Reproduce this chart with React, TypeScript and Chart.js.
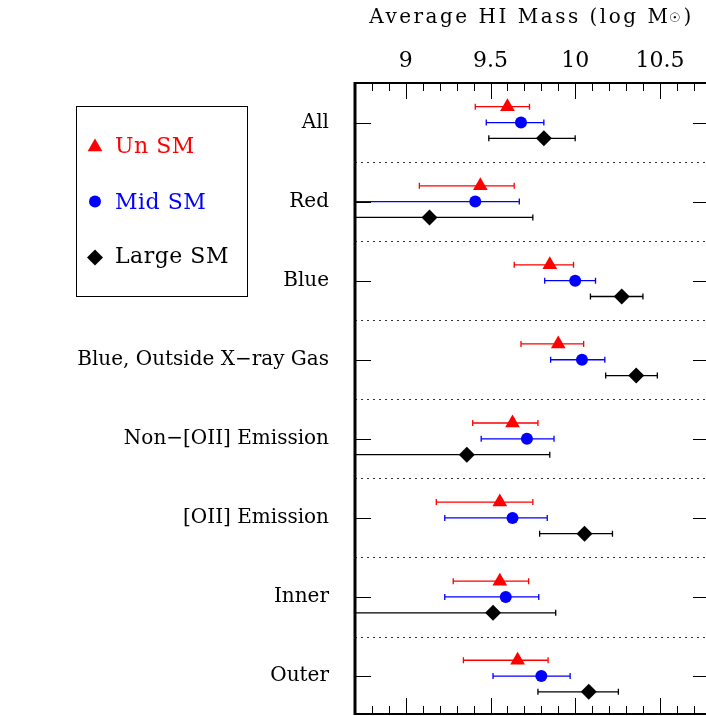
import React, { useEffect, useRef } from "react";
import { Chart, registerables } from "chart.js";

Chart.register(...registerables);

const categories = [
  "All",
  "Red",
  "Blue",
  "Blue, Outside X\u2212ray Gas",
  "Non\u2212[OII] Emission",
  "[OII] Emission",
  "Inner",
  "Outer",
];

const xTickValues = [9, 9.5, 10, 10.5];
const xTickLabels = ["9", "9.5", "10", "10.5"];

const unSM = [9.6, 9.44, 9.85, 9.9, 9.63, 9.555, 9.555, 9.66];
const unLo = [9.41, 9.08, 9.64, 9.68, 9.395, 9.18, 9.28, 9.34];
const unHi = [9.73, 9.64, 9.99, 10.05, 9.78, 9.75, 9.725, 9.84];

const midSM = [9.68, 9.41, 10.0, 10.04, 9.715, 9.63, 9.59, 9.8];
const midLo = [9.475, 8.5, 9.82, 9.855, 9.445, 9.23, 9.23, 9.515];
const midHi = [9.815, 9.67, 10.12, 10.175, 9.875, 9.835, 9.785, 9.97];

const largeSM = [9.815, 9.14, 10.275, 10.36, 9.36, 10.055, 9.515, 10.08];
const largeLo = [9.49, 8.4, 10.09, 10.18, 8.5, 9.79, 8.6, 9.78];
const largeHi = [10.0, 9.75, 10.4, 10.485, 9.85, 10.22, 9.885, 10.255];

const seriesNames = ["Un SM", "Mid SM", "Large SM"];
const seriesColors = ["#ff0000", "#0000ff", "#000000"];
const seriesStyles = ["triangle", "circle", "rectRot"];
const seriesRadii = [8.5, 6, 8];
const seriesOffsets = [-0.2, 0, 0.2];

const FONT = "'DejaVu Serif', serif";

const X_MIN = 8.7;
const X_MAX = 10.79;
const Y_MAX = 7.98;

const errorBarPlugin = {
  id: "errorBars",
  beforeDatasetsDraw(chart: any) {
    const { ctx, chartArea } = chart;
    const xs = chart.scales.x;
    const ys = chart.scales.y;
    const lo = [unLo, midLo, largeLo];
    const hi = [unHi, midHi, largeHi];
    ctx.save();
    ctx.beginPath();
    ctx.rect(chartArea.left, chartArea.top, chartArea.right - chartArea.left, chartArea.bottom - chartArea.top);
    ctx.clip();
    ctx.lineWidth = 1.3;
    for (let s = 0; s < 3; s++) {
      ctx.strokeStyle = seriesColors[s];
      for (let i = 0; i < categories.length; i++) {
        const y = ys.getPixelForValue(i + 0.5 + seriesOffsets[s]);
        const x1 = xs.getPixelForValue(lo[s][i]);
        const x2 = xs.getPixelForValue(hi[s][i]);
        ctx.beginPath();
        ctx.moveTo(x1, y);
        ctx.lineTo(x2, y);
        ctx.moveTo(x1, y - 3);
        ctx.lineTo(x1, y + 3);
        ctx.moveTo(x2, y - 3);
        ctx.lineTo(x2, y + 3);
        ctx.stroke();
      }
    }
    ctx.restore();
  },
};

const framePlugin = {
  id: "frame",
  afterDatasetsDraw(chart: any) {
    const { ctx, chartArea } = chart;
    const { left, right, top, bottom } = chartArea;
    const xs = chart.scales.x;
    const ys = chart.scales.y;
    ctx.save();
    ctx.strokeStyle = "#333";
    ctx.lineWidth = 1;
    ctx.setLineDash([2, 4]);
    for (let i = 1; i < categories.length; i++) {
      const y = Math.round(ys.getPixelForValue(i)) + 0.5;
      ctx.beginPath();
      ctx.moveTo(left, y);
      ctx.lineTo(right, y);
      ctx.stroke();
    }
    ctx.setLineDash([]);
    ctx.strokeStyle = "#000";
    ctx.lineWidth = 1;
    for (let k = 88; k <= 107; k++) {
      const v = k / 10;
      const x = Math.round(xs.getPixelForValue(v)) + 0.5;
      const major = k % 5 === 0;
      const len = major ? 16 : 8;
      ctx.beginPath();
      ctx.moveTo(x, top);
      ctx.lineTo(x, top + len);
      ctx.moveTo(x, bottom);
      ctx.lineTo(x, bottom - len);
      ctx.stroke();
    }
    for (let i = 0; i < categories.length; i++) {
      const y = Math.round(ys.getPixelForValue(i + 0.5)) + 0.5;
      ctx.beginPath();
      ctx.moveTo(left, y);
      ctx.lineTo(left + 16, y);
      ctx.moveTo(right, y);
      ctx.lineTo(right - 16, y);
      ctx.stroke();
    }
    ctx.lineWidth = 2;
    ctx.beginPath();
    ctx.moveTo(left, top);
    ctx.lineTo(right, top);
    ctx.moveTo(left, bottom);
    ctx.lineTo(right, bottom);
    ctx.moveTo(right, top);
    ctx.lineTo(right, bottom);
    ctx.stroke();
    ctx.lineWidth = 3;
    ctx.beginPath();
    ctx.moveTo(left, top - 1);
    ctx.lineTo(left, bottom + 1);
    ctx.stroke();
    ctx.restore();
  },
};

const titlePlugin = {
  id: "topTitle",
  afterDraw(chart: any) {
    const { ctx } = chart;
    ctx.save();
    ctx.fillStyle = "#000";
    ctx.textBaseline = "alphabetic";
    ctx.textAlign = "left";
    (ctx as any).letterSpacing = "2.5px";
    const main = "Average HI Mass (log M";
    ctx.font = `20px ${FONT}`;
    const w1 = ctx.measureText(main).width;
    const w3 = ctx.measureText(")").width;
    (ctx as any).letterSpacing = "0px";
    ctx.font = `13px ${FONT}`;
    const w2 = ctx.measureText("\u2609").width + 2;
    const total = w1 + w2 + w3;
    const cx = 532;
    let x = cx - total / 2;
    const base = 23;
    (ctx as any).letterSpacing = "2.5px";
    ctx.font = `20px ${FONT}`;
    ctx.fillText(main, x, base);
    x += w1 - 1;
    (ctx as any).letterSpacing = "0px";
    ctx.font = `13px ${FONT}`;
    ctx.fillText("\u2609", x, base - 1);
    x += w2;
    ctx.font = `20px ${FONT}`;
    ctx.fillText(")", x, base);
    ctx.restore();
  },
};

function drawMarker(ctx: CanvasRenderingContext2D, style: string, r: number, x: number, y: number) {
  ctx.beginPath();
  if (style === "triangle") {
    ctx.moveTo(x, y - r);
    ctx.lineTo(x + r * Math.sin((2 * Math.PI) / 3), y - r * Math.cos((2 * Math.PI) / 3));
    ctx.lineTo(x + r * Math.sin((4 * Math.PI) / 3), y - r * Math.cos((4 * Math.PI) / 3));
  } else if (style === "circle") {
    ctx.arc(x, y, r, 0, Math.PI * 2);
  } else {
    ctx.moveTo(x - r, y);
    ctx.lineTo(x, y - r);
    ctx.lineTo(x + r, y);
    ctx.lineTo(x, y + r);
  }
  ctx.closePath();
  ctx.fill();
}

const legendPlugin = {
  id: "boxLegend",
  afterDraw(chart: any) {
    const { ctx } = chart;
    ctx.save();
    ctx.strokeStyle = "#000";
    ctx.lineWidth = 1;
    ctx.strokeRect(76.5, 106.5, 171, 190);
    const rowY = [146, 202, 256];
    const markY = [147, 201.5, 257.5];
    ctx.textBaseline = "middle";
    ctx.textAlign = "left";
    ctx.font = `22px ${FONT}`;
    (ctx as any).letterSpacing = "0.5px";
    for (let s = 0; s < 3; s++) {
      ctx.fillStyle = seriesColors[s];
      drawMarker(ctx, seriesStyles[s], seriesRadii[s], 95, markY[s]);
      ctx.fillText(chart.data.datasets[s].label, 115, rowY[s] + 1);
    }
    ctx.restore();
  },
};

export default function App() {
  const canvasRef = useRef<HTMLCanvasElement | null>(null);

  useEffect(() => {
    const canvas = canvasRef.current;
    if (!canvas) return;
    const values = [unSM, midSM, largeSM];
    const datasets = values.map((vals, s) => ({
      label: seriesNames[s],
      data: vals.map((v, i) => ({ x: v, y: i + 0.5 + seriesOffsets[s] })),
      pointStyle: seriesStyles[s],
      pointRadius: seriesRadii[s],
      pointBackgroundColor: seriesColors[s],
      pointBorderColor: seriesColors[s],
      pointBorderWidth: 0,
      showLine: false,
    }));
    const chart = new Chart(canvas, {
      type: "scatter",
      data: { datasets } as any,
      options: {
        animation: false,
        responsive: false,
        devicePixelRatio: 1,
        layout: { autoPadding: false, padding: { left: 0, top: 0, right: 3, bottom: 2 } },
        plugins: { legend: { display: false }, tooltip: { enabled: false } },
        scales: {
          x: {
            type: "linear",
            position: "top",
            min: X_MIN,
            max: X_MAX,
            afterBuildTicks: (axis: any) => {
              axis.ticks = xTickValues.map((v) => ({ value: v }));
            },
            afterFit: (axis: any) => {
              axis.height = 83;
              axis.paddingLeft = 0;
              axis.paddingRight = 0;
            },
            ticks: {
              callback: (_v: any, i: number) => xTickLabels[i],
              font: { family: FONT, size: 22 },
              color: "#000",
              padding: 9,
              maxRotation: 0,
              autoSkip: false,
            },
            grid: { display: false, drawTicks: false },
            border: { display: false },
          },
          y: {
            type: "linear",
            min: 0,
            max: Y_MAX,
            reverse: true,
            afterBuildTicks: (axis: any) => {
              axis.ticks = categories.map((_c, i) => ({ value: i + 0.5 }));
            },
            afterFit: (axis: any) => {
              axis.width = 355;
              axis.paddingTop = 0;
              axis.paddingBottom = 0;
            },
            ticks: {
              callback: (_v: any, i: number) => categories[i],
              font: { family: FONT, size: 20 },
              color: "#000",
              padding: 26,
              autoSkip: false,
            },
            grid: { display: false, drawTicks: false },
            border: { display: false },
          },
        },
      },
      plugins: [errorBarPlugin, framePlugin, titlePlugin, legendPlugin],
    } as any);
    return () => chart.destroy();
  }, []);

  return (
    <div style={{ position: "absolute", left: 0, top: 0, width: 706, height: 716, overflow: "hidden", background: "#fff" }}>
      <canvas ref={canvasRef} width={712} height={716} style={{ display: "block" }} />
    </div>
  );
}
